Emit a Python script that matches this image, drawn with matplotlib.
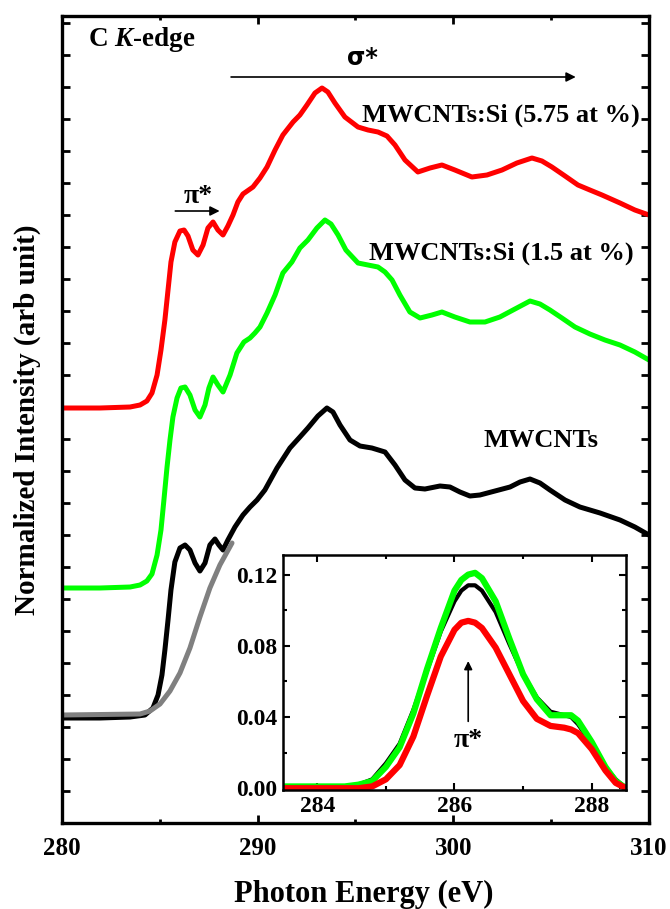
import numpy as np
import matplotlib
matplotlib.use("Agg")
import matplotlib.pyplot as plt
from matplotlib.ticker import MultipleLocator, NullFormatter, FormatStrFormatter

plt.rcParams['font.family'] = ['Liberation Serif', 'DejaVu Serif']
plt.rcParams['font.weight'] = 'bold'
plt.rcParams['mathtext.fontset'] = 'custom'
plt.rcParams['mathtext.rm'] = 'Liberation Serif:bold'
plt.rcParams['mathtext.it'] = 'Liberation Serif:italic:bold'
plt.rcParams['mathtext.bf'] = 'Liberation Serif:bold'

# C K-edge NEXAFS spectra (stacked, arbitrary units)
e_cnt = [280.00, 281.94, 283.48, 284.24, 284.65, 284.91, 285.11, 285.26, 285.42, 285.57,
         285.77, 286.03, 286.29, 286.54, 286.80, 287.05, 287.31, 287.56, 287.82, 288.02,
         288.23, 288.48, 288.84, 289.25, 289.61, 289.97, 290.37, 290.99, 291.65, 292.16,
         292.57, 293.08, 293.54, 293.85, 294.21, 294.72, 295.23, 295.84, 296.51, 297.02,
         297.53, 298.04, 298.55, 299.32, 299.83, 300.34, 300.85, 301.36, 302.13, 302.90,
         303.41, 303.92, 304.43, 304.94, 305.71, 306.47, 307.50, 308.52, 309.28, 310.00]
i_cnt = [1.05, 1.05, 1.06, 1.08, 1.15, 1.28, 1.48, 1.73, 2.03, 2.33,
         2.61, 2.75, 2.78, 2.73, 2.60, 2.52, 2.60, 2.78, 2.84, 2.78,
         2.73, 2.83, 2.96, 3.08, 3.16, 3.23, 3.33, 3.55, 3.75, 3.86,
         3.95, 4.07, 4.15, 4.11, 3.98, 3.83, 3.77, 3.75, 3.71, 3.58,
         3.43, 3.35, 3.34, 3.37, 3.36, 3.31, 3.27, 3.28, 3.32, 3.36,
         3.41, 3.44, 3.40, 3.33, 3.23, 3.16, 3.10, 3.03, 2.96, 2.88]

e_si15 = [280.00, 281.94, 283.48, 283.99, 284.34, 284.60, 284.86, 285.06, 285.21, 285.37,
          285.52, 285.67, 285.88, 286.08, 286.29, 286.54, 286.80, 287.05, 287.31, 287.51,
          287.72, 287.97, 288.23, 288.59, 288.94, 289.30, 289.61, 289.86, 290.12, 290.48,
          290.89, 291.29, 291.75, 292.16, 292.57, 293.03, 293.44, 293.75, 294.11, 294.51,
          295.13, 295.64, 296.15, 296.51, 296.87, 297.27, 297.78, 298.30, 298.91, 299.42,
          300.08, 300.85, 301.62, 302.38, 303.15, 303.92, 304.43, 304.94, 305.55, 306.22,
          306.98, 307.75, 308.52, 309.28, 310.00]
i_si15 = [2.35, 2.35, 2.36, 2.38, 2.42, 2.49, 2.68, 2.93, 3.23, 3.56,
          3.83, 4.06, 4.25, 4.35, 4.36, 4.28, 4.13, 4.06, 4.18, 4.35,
          4.46, 4.38, 4.31, 4.48, 4.70, 4.81, 4.85, 4.90, 4.96, 5.10,
          5.28, 5.50, 5.61, 5.75, 5.83, 5.95, 6.03, 5.99, 5.88, 5.73,
          5.60, 5.58, 5.56, 5.51, 5.43, 5.28, 5.11, 5.05, 5.08, 5.11,
          5.06, 5.01, 5.01, 5.06, 5.14, 5.22, 5.19, 5.13, 5.05, 4.96,
          4.89, 4.83, 4.78, 4.71, 4.63]

e_si575 = [280.00, 281.94, 283.48, 283.99, 284.34, 284.60, 284.86, 285.06, 285.26, 285.42,
           285.57, 285.77, 286.03, 286.24, 286.44, 286.69, 286.95, 287.21, 287.46, 287.72,
           287.97, 288.23, 288.48, 288.74, 288.99, 289.25, 289.76, 290.12, 290.48, 290.89,
           291.29, 291.81, 292.16, 292.52, 292.93, 293.29, 293.59, 293.95, 294.46, 295.13,
           295.64, 296.15, 296.61, 297.02, 297.53, 298.19, 298.81, 299.42, 300.08, 300.95,
           301.72, 302.49, 303.25, 304.02, 304.53, 305.04, 305.71, 306.37, 306.98, 307.60,
           308.52, 309.28, 310.00]
i_si575 = [4.15, 4.15, 4.16, 4.18, 4.22, 4.30, 4.48, 4.73, 5.03, 5.33,
           5.61, 5.81, 5.92, 5.93, 5.87, 5.73, 5.68, 5.78, 5.95, 6.01,
           5.93, 5.88, 5.97, 6.08, 6.21, 6.29, 6.36, 6.45, 6.56, 6.73,
           6.88, 7.01, 7.08, 7.18, 7.30, 7.35, 7.31, 7.20, 7.06, 6.96,
           6.93, 6.91, 6.87, 6.78, 6.63, 6.51, 6.55, 6.58, 6.53, 6.46,
           6.48, 6.53, 6.60, 6.65, 6.62, 6.56, 6.47, 6.38, 6.33, 6.28,
           6.20, 6.13, 6.08]

# step-edge background under the MWCNTs spectrum
e_bg = [280.00, 283.99, 284.50, 285.01, 285.52, 286.03, 286.54, 287.05, 287.56, 288.07, 288.69]
i_bg = [1.08, 1.09, 1.12, 1.19, 1.32, 1.50, 1.75, 2.06, 2.35, 2.58, 2.80]

# background-subtracted pi* region (inset)
e_in = [283.5, 284.0, 284.4, 284.6, 284.8, 285.0, 285.2, 285.4, 285.6, 285.8, 286.0,
        286.1, 286.2, 286.3, 286.4, 286.6, 286.8, 287.0, 287.2, 287.4, 287.6, 287.7,
        287.8, 288.0, 288.2, 288.35, 288.5]
in_cnt = [0.001, 0.001, 0.001, 0.002, 0.005, 0.014, 0.025, 0.044, 0.066, 0.088, 0.105,
          0.111, 0.114, 0.114, 0.111, 0.099, 0.081, 0.064, 0.051, 0.043, 0.041, 0.040,
          0.036, 0.025, 0.012, 0.005, 0.0]
in_si15 = [0.001, 0.001, 0.001, 0.002, 0.004, 0.012, 0.023, 0.042, 0.067, 0.090, 0.111,
           0.117, 0.120, 0.121, 0.118, 0.105, 0.084, 0.064, 0.050, 0.041, 0.041, 0.041,
           0.038, 0.026, 0.012, 0.004, 0.0]
in_si575 = [0.0, 0.0, 0.0, 0.0, 0.001, 0.005, 0.013, 0.029, 0.052, 0.074, 0.089,
            0.093, 0.094, 0.093, 0.090, 0.079, 0.064, 0.049, 0.039, 0.035, 0.034, 0.033,
            0.031, 0.022, 0.010, 0.003, 0.0]

RED = '#ff0000'
GREEN = '#00ff00'
line_kw = dict(solid_joinstyle='round', solid_capstyle='round')

fig = plt.figure(figsize=(6.7, 9.09), dpi=100)
ax = fig.add_axes([0.0925, 0.0946, 0.8761, 0.8878])

ax.plot(e_si575, i_si575, color=RED, lw=3.6, **line_kw)
ax.plot(e_si15, i_si15, color=GREEN, lw=3.6, **line_kw)
ax.plot(e_cnt, i_cnt, color='black', lw=3.6, **line_kw)
ax.plot(e_bg, i_bg, color='#808080', lw=3.6, **line_kw)

ax.set_xlim(280, 310)
ax.set_ylim(0, 8.07)
ax.xaxis.set_major_locator(MultipleLocator(10))
ax.xaxis.set_minor_locator(MultipleLocator(5))
ax.yaxis.set_major_locator(MultipleLocator(0.32))
ax.yaxis.set_major_formatter(NullFormatter())
ax.tick_params(which='both', direction='in', top=True, right=True, width=2)
ax.tick_params(which='major', length=6, labelsize=18, pad=10)
ax.tick_params(which='minor', length=3)
for s in ax.spines.values():
    s.set_linewidth(2.4)

ax.set_xlabel('Photon Energy (eV)', fontsize=22, fontweight='bold')
ax.xaxis.set_label_coords(0.514, -0.071)
ax.set_ylabel('Normalized Intensity (arb unit)', fontsize=21, fontweight='bold', labelpad=5)

ax.text(281.33, 7.83, r'C $\mathit{K}$-edge', fontsize=19.5, va='center', ha='left')

# sigma* and pi* region markers
ax.annotate('', xy=(306.4, 7.46), xytext=(288.5, 7.46),
            arrowprops=dict(arrowstyle='-|>', color='black', lw=1.2, mutation_scale=14))
ax.text(295.35, 7.65, 'σ*', fontsize=17, ha='center', va='center',
        family=['DejaVu Sans'], fontweight='bold')
ax.annotate('', xy=(288.2, 6.12), xytext=(285.65, 6.12),
            arrowprops=dict(arrowstyle='-|>', color='black', lw=1.2, mutation_scale=14))
ax.text(286.95, 6.27, 'π*', fontsize=20, ha='center', va='center')

ax.text(302.41, 7.08, 'MWCNTs:Si (5.75 at %)', fontsize=19, ha='center', va='center')
ax.text(302.44, 5.70, 'MWCNTs:Si (1.5 at %)', fontsize=19, ha='center', va='center')
ax.text(304.48, 3.83, 'MWCNTs', fontsize=19, ha='center', va='center')

# inset: pi* peak after background subtraction
axi = fig.add_axes([0.4224, 0.1309, 0.5119, 0.2585])
axi.plot(e_in, in_cnt, color='black', lw=3.0, **line_kw)
axi.plot(e_in, in_si15, color=GREEN, lw=4.5, **line_kw)
axi.plot(e_in, in_si575, color=RED, lw=4.5, **line_kw)
axi.set_xlim(283.5, 288.5)
axi.set_ylim(-0.001, 0.131)
axi.xaxis.set_major_locator(MultipleLocator(2))
axi.xaxis.set_minor_locator(MultipleLocator(1))
axi.yaxis.set_major_locator(MultipleLocator(0.04))
axi.yaxis.set_minor_locator(MultipleLocator(0.02))
axi.yaxis.set_major_formatter(FormatStrFormatter('%.2f'))
axi.tick_params(which='both', direction='in', top=True, right=True, width=1.5)
axi.tick_params(which='major', length=5, labelsize=17, pad=4)
axi.tick_params(which='minor', length=3)
for s in axi.spines.values():
    s.set_linewidth(1.8)
axi.annotate('', xy=(286.2, 0.073), xytext=(286.2, 0.036),
             arrowprops=dict(arrowstyle='-|>', color='black', lw=1.2, mutation_scale=12))
axi.text(286.2, 0.027, 'π*', fontsize=20, ha='center', va='center')

fig.savefig('out.png', dpi=100)
